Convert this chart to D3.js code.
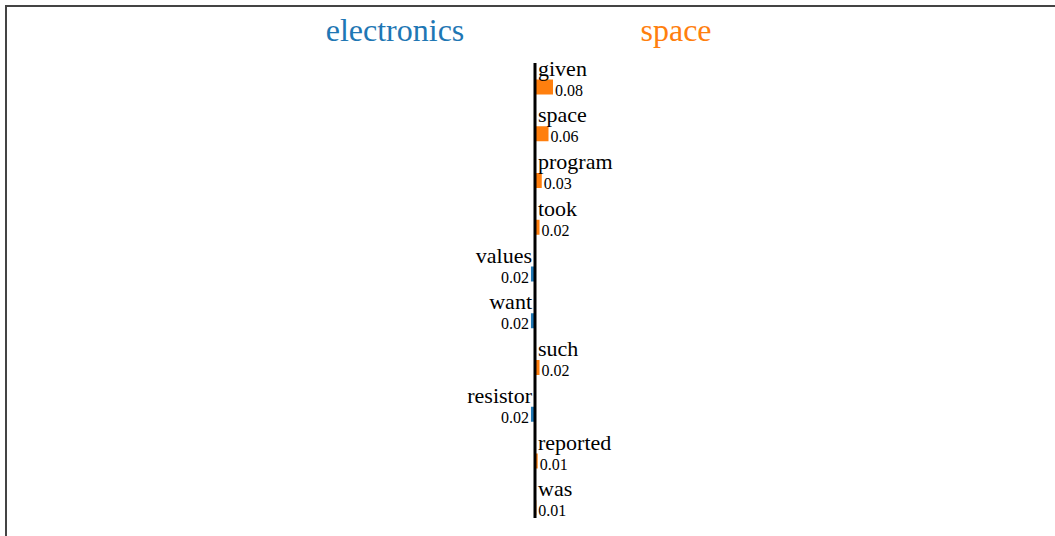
<!DOCTYPE html>
<html>
<head>
<meta charset="utf-8">
<script src="https://cdn.jsdelivr.net/npm/d3@7"></script>
<style>
    body { margin: 0; background: #fff; }
    svg { display: block; }
    text { font-family: "Liberation Serif", "Times New Roman", serif; }
</style>
</head>
<body>
<svg></svg>
<script>
// data
var classNames = ['electronics', 'space'];
var words = ['given', 'space', 'program', 'took', 'values', 'want', 'such', 'resistor', 'reported', 'was'];
// positive -> space, negative -> electronics
var weights = [0.08, 0.06, 0.03, 0.02, -0.018, -0.018, 0.02, -0.018, 0.012, 0.006];

var width = 1055,
    height = 536,
    colors = ['#1f77b4', '#ff7f0e'],
    svg = d3.select('svg')
    .attr('width', width)
    .attr('height', height);

var axisX = 535,
    barH = 15;

var x = d3.scaleLinear().domain([0, 0.08]).range([0, 18]);
var y = d3.scaleLinear().domain([0, words.length]).range([79.5, 79.5 + 46.75 * words.length]);

// frame (screenshot border, top and left)
svg.append('line')
    .attr('x1', 5).attr('y1', 6).attr('x2', width).attr('y2', 6)
    .attr('stroke', '#444').attr('stroke-width', 2);
svg.append('line')
    .attr('x1', 6).attr('y1', 5).attr('x2', 6).attr('y2', height)
    .attr('stroke', '#444').attr('stroke-width', 2);

// class titles
svg.selectAll('.title')
    .data(classNames)
    .enter().append('text')
    .attr('class', 'title')
    .attr('x', function (d, i) { return i == 0 ? axisX - 140 : axisX + 141; })
    .attr('y', 41)
    .attr('text-anchor', 'middle')
    .attr('font-size', 32)
    .attr('fill', function (d, i) { return colors[i]; })
    .text(function (d) { return d; });

var rows = svg.selectAll('.row')
    .data(words)
    .enter().append('g')
    .attr('class', 'row')
    .attr('transform', function (d, i) { return 'translate(0,' + y(i) + ')'; });

rows.append('rect')
    .attr('x', function (d, i) { var w = weights[i]; return w > 0 ? axisX : axisX - x(-w); })
    .attr('y', 0)
    .attr('width', function (d, i) { return x(Math.abs(weights[i])); })
    .attr('height', barH)
    .attr('fill', function (d, i) { return weights[i] > 0 ? colors[1] : colors[0]; });

rows.append('text')
    .attr('class', 'word')
    .attr('x', function (d, i) { return weights[i] > 0 ? axisX + 3 : axisX - 3; })
    .attr('y', -4)
    .attr('text-anchor', function (d, i) { return weights[i] > 0 ? 'start' : 'end'; })
    .attr('font-size', 22)
    .attr('fill', '#000')
    .text(function (d) { return d; });

rows.append('text')
    .attr('class', 'value')
    .attr('x', function (d, i) {
        var w = weights[i];
        return w > 0 ? axisX + x(w) + 2 : axisX - x(-w) - 2;
    })
    .attr('y', barH + 1)
    .attr('text-anchor', function (d, i) { return weights[i] > 0 ? 'start' : 'end'; })
    .attr('font-size', 16)
    .attr('fill', '#000')
    .text(function (d, i) { return Math.abs(weights[i]).toFixed(2); });

// center axis
svg.append('line')
    .attr('x1', axisX).attr('x2', axisX)
    .attr('y1', 63).attr('y2', 518)
    .attr('stroke', '#000')
    .attr('stroke-width', 3);
</script>
</body>
</html>
